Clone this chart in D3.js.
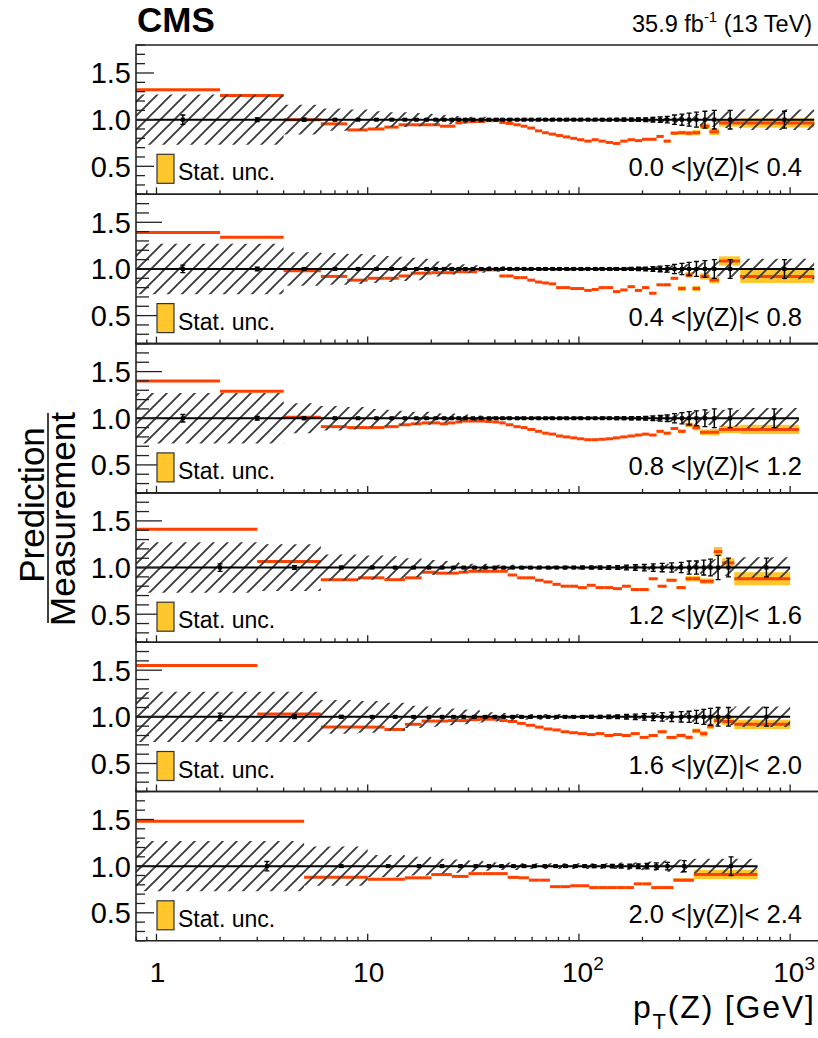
<!DOCTYPE html>
<html>
<head>
<meta charset="utf-8">
<script src="https://cdn.jsdelivr.net/npm/d3@7"></script>
<style>
  body { margin: 0; background: #fff; }
  svg { display: block; font-family: "Liberation Sans", Arial, Helvetica, sans-serif; }
</style>
</head>
<body>
<svg id="chart" width="818" height="1038"></svg>
<script>
// ---- data (pT bins in GeV, ratios prediction / measurement) ----
// lower bin edges, one group per rapidity range; last upper edge is in lastEdge
const edgesCentral = [0, 2, 4, 6, 8, 10, 12, 14, 16, 18,
  20, 22, 24, 26, 28, 30, 33, 36, 39, 42,
  45, 49, 53, 57, 62, 67, 72, 78, 84, 91,
  98, 106, 115, 124, 134, 145, 157, 170, 184, 199,
  215, 233, 252, 272, 295, 320, 345, 375, 415, 460,
  580];
const edgesMid = [0, 3, 6, 9, 12, 15, 18, 21, 24, 27,
  30, 34, 38, 42, 46, 51, 56, 62, 68, 75,
  82, 90, 99, 109, 120, 132, 145, 160, 176, 194,
  214, 236, 260, 290, 320, 345, 375, 405, 435, 477,
  544];
const edgesFwd = [0, 5, 10, 15, 20, 25, 30, 35, 40, 46,
  52, 58, 65, 73, 82, 91, 101, 112, 124, 137,
  151, 166, 182, 200, 220, 245, 280, 350];
const lastEdge = [1300, 1300, 1100, 1000, 1000, 700];

const rapidityLabels = ['0.0 <|y(Z)|< 0.4', '0.4 <|y(Z)|< 0.8', '0.8 <|y(Z)|< 1.2',
  '1.2 <|y(Z)|< 1.6', '1.6 <|y(Z)|< 2.0', '2.0 <|y(Z)|< 2.4'];

const pred1 = [1.32, 1.26, 1.00, 0.955, 0.89, 0.90, 0.92, 0.945, 0.945, 0.945,
  0.945, 0.93, 0.93, 0.965, 0.975, 0.98, 0.98, 0.99, 0.99, 0.97,
  0.96, 0.945, 0.93, 0.91, 0.88, 0.86, 0.845, 0.83, 0.815, 0.80,
  0.785, 0.77, 0.785, 0.77, 0.756, 0.745, 0.77, 0.785, 0.775, 0.79,
  0.79, 0.82, 0.77, 0.855, 0.86, 0.855, 0.86, 0.93, 0.87, 0.965,
  0.965];
const pred2 = [1.39, 1.34, 0.98, 0.92, 0.88, 0.90, 0.90, 0.925, 0.955, 0.955,
  0.96, 0.96, 0.96, 0.97, 0.97, 0.97, 0.99, 0.99, 0.99, 0.925,
  0.925, 0.907, 0.907, 0.88, 0.86, 0.85, 0.84, 0.80, 0.80, 0.79,
  0.79, 0.77, 0.78, 0.80, 0.80, 0.757, 0.775, 0.81, 0.77, 0.80,
  0.74, 0.83, 0.83, 0.90, 0.79, 0.935, 0.79, 0.92, 0.88, 1.085,
  0.92];
const pred3 = [1.40, 1.29, 1.01, 0.91, 0.90, 0.90, 0.91, 0.93, 0.94, 0.95,
  0.95, 0.94, 0.95, 0.96, 0.97, 0.97, 0.97, 0.965, 0.96, 0.95,
  0.93, 0.91, 0.90, 0.88, 0.86, 0.84, 0.83, 0.81, 0.80, 0.79,
  0.78, 0.77, 0.77, 0.775, 0.78, 0.79, 0.80, 0.81, 0.82, 0.83,
  0.82, 0.86, 0.84, 0.89, 0.86, 0.93, 0.90, 0.85, 0.85, 0.88,
  0.88];
const pred4 = [1.41, 1.065, 0.87, 0.89, 0.87, 0.89, 0.95, 0.94, 0.94, 0.95,
  0.96, 0.96, 0.96, 0.96, 0.92, 0.89, 0.89, 0.864, 0.846, 0.82,
  0.80, 0.80, 0.785, 0.81, 0.785, 0.785, 0.774, 0.80, 0.764, 0.764,
  0.88, 0.80, 0.864, 0.785, 0.88, 0.88, 0.853, 0.853, 1.17, 1.05,
  0.88];
const pred5 = [1.55, 1.03, 0.89, 0.89, 0.865, 0.92, 0.955, 0.955, 0.96, 0.96,
  0.97, 0.975, 0.975, 0.96, 0.95, 0.93, 0.91, 0.89, 0.87, 0.86,
  0.84, 0.83, 0.82, 0.81, 0.82, 0.80, 0.81, 0.80, 0.82, 0.78,
  0.80, 0.84, 0.78, 0.80, 0.78, 0.85, 0.82, 0.90, 0.96, 0.95,
  0.92];
const pred6 = [1.48, 0.88, 0.86, 0.875, 0.91, 0.89, 0.92, 0.92, 0.92, 0.88,
  0.875, 0.85, 0.85, 0.78, 0.78, 0.79, 0.79, 0.77, 0.77, 0.77,
  0.77, 0.77, 0.81, 0.81, 0.77, 0.77, 0.85, 0.91];

// statistical uncertainty of the prediction (yellow boxes)
const stat1 = [0.006, 0.006, 0.006, 0.006, 0.006, 0.006, 0.006, 0.006, 0.006, 0.006,
  0.006, 0.006, 0.006, 0.006, 0.006, 0.006, 0.006, 0.006, 0.006, 0.006,
  0.006, 0.006, 0.006, 0.006, 0.006, 0.006, 0.006, 0.006, 0.006, 0.006,
  0.006, 0.006, 0.006, 0.006, 0.006, 0.008, 0.008, 0.008, 0.01, 0.01,
  0.01, 0.012, 0.014, 0.02, 0.022, 0.025, 0.028, 0.03, 0.035, 0.04,
  0.05];
const stat2 = [0.006, 0.006, 0.006, 0.006, 0.006, 0.006, 0.006, 0.006, 0.006, 0.006,
  0.006, 0.006, 0.006, 0.006, 0.006, 0.006, 0.006, 0.006, 0.006, 0.006,
  0.006, 0.006, 0.006, 0.006, 0.006, 0.006, 0.006, 0.006, 0.006, 0.006,
  0.006, 0.006, 0.006, 0.006, 0.006, 0.008, 0.008, 0.008, 0.01, 0.01,
  0.01, 0.012, 0.014, 0.015, 0.025, 0.03, 0.03, 0.035, 0.035, 0.05,
  0.07];
const stat3 = [0.006, 0.006, 0.006, 0.006, 0.006, 0.006, 0.006, 0.006, 0.006, 0.006,
  0.006, 0.006, 0.006, 0.006, 0.006, 0.006, 0.006, 0.006, 0.006, 0.006,
  0.006, 0.006, 0.006, 0.006, 0.006, 0.006, 0.006, 0.006, 0.006, 0.006,
  0.006, 0.006, 0.006, 0.006, 0.006, 0.008, 0.008, 0.008, 0.01, 0.01,
  0.01, 0.012, 0.014, 0.015, 0.02, 0.025, 0.03, 0.03, 0.035, 0.04,
  0.05];
const stat4 = [0.006, 0.006, 0.006, 0.006, 0.006, 0.006, 0.006, 0.006, 0.006, 0.006,
  0.006, 0.006, 0.006, 0.006, 0.006, 0.006, 0.006, 0.006, 0.006, 0.006,
  0.006, 0.008, 0.008, 0.008, 0.01, 0.01, 0.01, 0.01, 0.012, 0.012,
  0.01, 0.01, 0.015, 0.015, 0.03, 0.03, 0.03, 0.03, 0.05, 0.05,
  0.07];
const stat5 = [0.006, 0.006, 0.006, 0.006, 0.006, 0.006, 0.006, 0.006, 0.006, 0.006,
  0.006, 0.006, 0.006, 0.006, 0.006, 0.006, 0.006, 0.006, 0.006, 0.006,
  0.006, 0.008, 0.008, 0.008, 0.01, 0.01, 0.01, 0.01, 0.012, 0.012,
  0.012, 0.015, 0.015, 0.02, 0.02, 0.025, 0.03, 0.03, 0.035, 0.04,
  0.05];
const stat6 = [0.006, 0.006, 0.006, 0.006, 0.006, 0.006, 0.006, 0.006, 0.006, 0.006,
  0.006, 0.006, 0.006, 0.006, 0.008, 0.008, 0.008, 0.01, 0.01, 0.01,
  0.01, 0.012, 0.012, 0.012, 0.014, 0.015, 0.02, 0.05];

// total systematic uncertainty of the measurement (hatched band)
const syst1 = [0.27, 0.27, 0.16, 0.12, 0.11, 0.09, 0.08, 0.08, 0.07, 0.07,
  0.06, 0.05, 0.05, 0.04, 0.04, 0.03, 0.03, 0.03, 0.02, 0.02,
  0.02, 0.02, 0.02, 0.02, 0.02, 0.02, 0.02, 0.02, 0.02, 0.02,
  0.02, 0.02, 0.02, 0.02, 0.02, 0.02, 0.02, 0.02, 0.02, 0.02,
  0.03, 0.03, 0.04, 0.04, 0.05, 0.05, 0.06, 0.07, 0.08, 0.09,
  0.11];
const syst2 = [0.27, 0.27, 0.18, 0.17, 0.16, 0.15, 0.14, 0.13, 0.12, 0.11,
  0.08, 0.07, 0.06, 0.05, 0.05, 0.04, 0.04, 0.03, 0.03, 0.03,
  0.02, 0.02, 0.02, 0.02, 0.02, 0.02, 0.02, 0.02, 0.02, 0.02,
  0.02, 0.02, 0.02, 0.02, 0.02, 0.02, 0.02, 0.02, 0.02, 0.02,
  0.03, 0.03, 0.04, 0.04, 0.05, 0.05, 0.06, 0.07, 0.08, 0.09,
  0.11];
const syst3 = [0.27, 0.27, 0.16, 0.13, 0.12, 0.10, 0.09, 0.08, 0.07, 0.07,
  0.06, 0.05, 0.05, 0.04, 0.04, 0.03, 0.03, 0.03, 0.02, 0.02,
  0.02, 0.02, 0.02, 0.02, 0.02, 0.02, 0.02, 0.02, 0.02, 0.02,
  0.02, 0.02, 0.02, 0.02, 0.02, 0.02, 0.02, 0.02, 0.02, 0.02,
  0.03, 0.03, 0.04, 0.04, 0.05, 0.06, 0.07, 0.07, 0.08, 0.09,
  0.11];
const syst4 = [0.27, 0.25, 0.14, 0.13, 0.12, 0.10, 0.08, 0.07, 0.06, 0.05,
  0.04, 0.04, 0.03, 0.03, 0.03, 0.02, 0.02, 0.02, 0.02, 0.02,
  0.02, 0.02, 0.02, 0.02, 0.02, 0.02, 0.02, 0.02, 0.02, 0.02,
  0.03, 0.03, 0.04, 0.04, 0.05, 0.06, 0.07, 0.08, 0.09, 0.09,
  0.11];
const syst5 = [0.27, 0.27, 0.18, 0.17, 0.15, 0.12, 0.11, 0.10, 0.09, 0.08,
  0.07, 0.06, 0.05, 0.04, 0.04, 0.03, 0.03, 0.03, 0.03, 0.03,
  0.02, 0.02, 0.02, 0.02, 0.02, 0.02, 0.02, 0.02, 0.02, 0.02,
  0.03, 0.03, 0.04, 0.04, 0.05, 0.06, 0.07, 0.08, 0.09, 0.09,
  0.11];
const syst6 = [0.27, 0.21, 0.12, 0.10, 0.08, 0.07, 0.06, 0.05, 0.04, 0.04,
  0.03, 0.03, 0.03, 0.03, 0.03, 0.03, 0.03, 0.03, 0.03, 0.03,
  0.04, 0.04, 0.04, 0.05, 0.05, 0.06, 0.07, 0.08];

// statistical uncertainty of the measurement (black error bars)
const derr1 = [0.05, 0.02, 0.015, 0.012, 0.01, 0.01, 0.01, 0.01, 0.01, 0.01,
  0.01, 0.01, 0.01, 0.01, 0.01, 0.01, 0.01, 0.01, 0.01, 0.01,
  0.01, 0.01, 0.01, 0.01, 0.01, 0.01, 0.01, 0.01, 0.01, 0.01,
  0.01, 0.01, 0.01, 0.012, 0.012, 0.014, 0.015, 0.016, 0.018, 0.02,
  0.025, 0.03, 0.035, 0.05, 0.06, 0.07, 0.08, 0.09, 0.1, 0.1,
  0.09];
const derr2 = [0.04, 0.02, 0.015, 0.012, 0.01, 0.01, 0.01, 0.01, 0.01, 0.01,
  0.01, 0.01, 0.01, 0.01, 0.01, 0.01, 0.01, 0.01, 0.01, 0.01,
  0.01, 0.01, 0.01, 0.01, 0.01, 0.01, 0.01, 0.01, 0.01, 0.01,
  0.01, 0.01, 0.01, 0.012, 0.012, 0.014, 0.015, 0.016, 0.018, 0.02,
  0.025, 0.03, 0.035, 0.05, 0.06, 0.07, 0.08, 0.09, 0.1, 0.1,
  0.1];
const derr3 = [0.04, 0.02, 0.015, 0.012, 0.01, 0.01, 0.01, 0.01, 0.01, 0.01,
  0.01, 0.01, 0.01, 0.01, 0.01, 0.01, 0.01, 0.01, 0.01, 0.01,
  0.01, 0.01, 0.01, 0.01, 0.01, 0.01, 0.01, 0.01, 0.01, 0.01,
  0.01, 0.01, 0.01, 0.012, 0.012, 0.014, 0.015, 0.016, 0.018, 0.02,
  0.025, 0.03, 0.035, 0.05, 0.06, 0.07, 0.08, 0.09, 0.1, 0.1,
  0.1];
const derr4 = [0.04, 0.02, 0.015, 0.012, 0.01, 0.01, 0.01, 0.01, 0.01, 0.01,
  0.01, 0.01, 0.01, 0.01, 0.01, 0.01, 0.01, 0.01, 0.01, 0.01,
  0.012, 0.012, 0.014, 0.015, 0.016, 0.018, 0.02, 0.025, 0.03, 0.035,
  0.04, 0.045, 0.05, 0.055, 0.07, 0.07, 0.08, 0.09, 0.13, 0.1,
  0.1];
const derr5 = [0.04, 0.02, 0.015, 0.012, 0.01, 0.01, 0.01, 0.01, 0.01, 0.01,
  0.01, 0.01, 0.01, 0.01, 0.01, 0.01, 0.01, 0.01, 0.01, 0.01,
  0.012, 0.012, 0.014, 0.015, 0.016, 0.018, 0.02, 0.025, 0.03, 0.035,
  0.04, 0.045, 0.05, 0.055, 0.06, 0.07, 0.08, 0.09, 0.1, 0.1,
  0.1];
const derr6 = [0.05, 0.012, 0.01, 0.01, 0.01, 0.01, 0.01, 0.01, 0.01, 0.01,
  0.01, 0.01, 0.01, 0.01, 0.012, 0.012, 0.014, 0.015, 0.016, 0.018,
  0.02, 0.022, 0.025, 0.03, 0.035, 0.04, 0.06, 0.1];

const yTickLabels = ['0.5', '1.0', '1.5'];
const xTickLabels = [['1', ''], ['10', ''], ['10', '2'], ['10', '3']];

// table used for drawing
const panels = [
  { edges: edgesCentral, pred: pred1, stat: stat1, syst: syst1, derr: derr1 },
  { edges: edgesCentral, pred: pred2, stat: stat2, syst: syst2, derr: derr2 },
  { edges: edgesCentral, pred: pred3, stat: stat3, syst: syst3, derr: derr3 },
  { edges: edgesMid, pred: pred4, stat: stat4, syst: syst4, derr: derr4 },
  { edges: edgesMid, pred: pred5, stat: stat5, syst: syst5, derr: derr5 },
  { edges: edgesFwd, pred: pred6, stat: stat6, syst: syst6, derr: derr6 },
].map((p, i) => ({ ...p, last: lastEdge[i], label: rapidityLabels[i] }));

// ---- layout ----
const svg = d3.select('#chart');
const plotLeft = 136;
const plotRight = 821; // frame runs just past the picture edge
const plotTop = 45;
const panelH = 149.3;
const orange = '#ff4000';
const statFill = '#ffc72c';

const xScale = d3.scaleLog().domain([0.8, 1400]).range([plotLeft, plotRight]);
const xc = (v) => xScale(Math.max(v, 0.8));

// hatch pattern for the systematic band
const pat = svg
  .append('defs')
  .append('pattern')
  .attr('id', 'hatch')
  .attr('patternUnits', 'userSpaceOnUse')
  .attr('width', 14)
  .attr('height', 14);
pat
  .append('path')
  .attr('d', 'M-1,15 L15,-1 M-4,4 L4,-4 M10,18 L18,10')
  .attr('stroke', '#3c3c3c')
  .attr('stroke-width', 1.9);

panels.forEach((p, i) => {
  const top = plotTop + i * panelH;
  const bottom = top + panelH;
  const yScale = d3.scaleLinear().domain([0.2, 1.8]).range([bottom, top]);
  const outer = i === 0 || i === panels.length - 1;

  const bins = p.edges.map((lo, k) => ({
    lo,
    hi: k + 1 < p.edges.length ? p.edges[k + 1] : p.last,
    pred: p.pred[k],
    stat: p.stat[k],
    syst: p.syst[k],
    err: p.derr[k],
  }));

  const grp = svg.append('g').attr('class', 'panel');

  // stat. unc. boxes of the prediction
  grp
    .selectAll('.stat')
    .data(bins)
    .enter()
    .append('rect')
    .attr('class', 'stat')
    .attr('x', (d) => xc(d.lo))
    .attr('width', (d) => xc(d.hi) - xc(d.lo))
    .attr('y', (d) => yScale(d.pred + d.stat))
    .attr('height', (d) => yScale(d.pred - d.stat) - yScale(d.pred + d.stat))
    .attr('fill', statFill);

  // prediction
  grp
    .selectAll('.pred')
    .data(bins)
    .enter()
    .append('line')
    .attr('class', 'pred')
    .attr('x1', (d) => xc(d.lo))
    .attr('x2', (d) => xc(d.hi))
    .attr('y1', (d) => yScale(d.pred))
    .attr('y2', (d) => yScale(d.pred))
    .attr('stroke', orange)
    .attr('stroke-width', 3);

  // hatched syst. band
  const stepPts = bins.concat([{ lo: p.last, syst: bins[bins.length - 1].syst }]);
  const band = d3
    .area()
    .x((d) => xc(d.lo))
    .y0((d) => yScale(1 - d.syst))
    .y1((d) => yScale(1 + d.syst))
    .curve(d3.curveStepAfter);
  grp.append('path').datum(stepPts).attr('d', band).attr('fill', 'url(#hatch)');

  // measurement line at 1
  grp
    .append('line')
    .attr('x1', xc(bins[0].lo))
    .attr('x2', xScale(p.last))
    .attr('y1', yScale(1))
    .attr('y2', yScale(1))
    .attr('stroke', '#000')
    .attr('stroke-width', 2);

  // data points
  const centre = (d) => (d.lo === 0 ? (d.hi * 2) / 3 : (d.lo + d.hi) / 2);
  const pts = grp
    .selectAll('.pt')
    .data(bins)
    .enter()
    .append('g')
    .attr('class', 'pt')
    .attr('transform', (d) => `translate(${xScale(centre(d))},0)`);
  pts
    .append('line')
    .attr('y1', (d) => yScale(1 + d.err))
    .attr('y2', (d) => yScale(1 - d.err))
    .attr('stroke', '#000')
    .attr('stroke-width', 1.5);
  pts
    .append('path')
    .attr('d', (d) => {
      const a = yScale(1 + d.err);
      const b = yScale(1 - d.err);
      return `M-2.5,${a}H2.5M-2.5,${b}H2.5`;
    })
    .attr('stroke', '#000')
    .attr('stroke-width', 1.3);
  pts
    .append('rect')
    .attr('x', -2)
    .attr('y', yScale(1) - 2)
    .attr('width', 4)
    .attr('height', 4)
    .attr('fill', '#000');

  // frame
  grp
    .append('path')
    .attr('d', `M${plotRight},${top}H${plotLeft}V${bottom}H${plotRight}`)
    .attr('fill', 'none')
    .attr('stroke', '#222')
    .attr('stroke-width', 1.6);

  // y axis ticks
  const yTicks = d3.range(2, 19).map((v) => v / 10);
  grp
    .selectAll('.ytick')
    .data(yTicks)
    .enter()
    .append('line')
    .attr('class', 'ytick')
    .attr('x1', plotLeft)
    .attr('x2', (d) => {
      const major = Math.abs(d * 2 - Math.round(d * 2)) < 1e-6;
      return plotLeft + (major ? (outer ? 18 : 26) : outer ? 9 : 13);
    })
    .attr('y1', (d) => yScale(d))
    .attr('y2', (d) => yScale(d))
    .attr('stroke', '#222')
    .attr('stroke-width', 1.3);

  grp
    .selectAll('.ylab')
    .data(yTickLabels)
    .enter()
    .append('text')
    .attr('class', 'ylab')
    .attr('x', 131)
    .attr('y', (d) => yScale(+d))
    .attr('dy', '0.36em')
    .attr('text-anchor', 'end')
    .attr('font-size', 29)
    .text((d) => d);

  // x axis ticks at the bottom of each panel
  const xTicks = [];
  [0.1, 1, 10, 100, 1000].forEach((dec) => {
    for (let m = 1; m <= 9; m++) {
      const v = m * dec;
      if (v >= 0.8 && v <= 1400) xTicks.push({ v, major: m === 1 });
    }
  });
  grp
    .selectAll('.xtick')
    .data(xTicks)
    .enter()
    .append('line')
    .attr('class', 'xtick')
    .attr('x1', (d) => xScale(d.v))
    .attr('x2', (d) => xScale(d.v))
    .attr('y1', bottom)
    .attr('y2', (d) => bottom - (d.major ? 7 : 4))
    .attr('stroke', '#222')
    .attr('stroke-width', 1.3);

  // legend
  grp
    .append('rect')
    .attr('x', 157)
    .attr('y', bottom - 40)
    .attr('width', 17)
    .attr('height', 29)
    .attr('fill', statFill)
    .attr('stroke', '#333')
    .attr('stroke-width', 1.2);
  grp
    .append('text')
    .attr('x', 178)
    .attr('y', bottom - 14)
    .attr('font-size', 23)
    .text('Stat. unc.');

  // rapidity range
  grp
    .append('text')
    .attr('x', 802)
    .attr('y', bottom - 18)
    .attr('text-anchor', 'end')
    .attr('font-size', 25.5)
    .text(p.label);
});

// x tick labels under the last panel
const xLabelVals = [1, 10, 100, 1000];
const xl = svg
  .selectAll('.xlab')
  .data(xTickLabels)
  .enter()
  .append('text')
  .attr('class', 'xlab')
  .attr('x', (d, i) => xScale(xLabelVals[i]) + (d[1] ? 4 : 1))
  .attr('y', 982)
  .attr('text-anchor', 'middle')
  .attr('font-size', 28);
xl.append('tspan').text((d) => d[0]);
xl.append('tspan')
  .attr('font-size', 19)
  .attr('dy', -12)
  .text((d) => d[1]);

// axis titles
const xt = svg
  .append('text')
  .attr('x', 633)
  .attr('y', 1018)
  .attr('font-size', 32)
  .attr('letter-spacing', 1.8);
xt.append('tspan').text('p');
xt.append('tspan').attr('font-size', 22).attr('dy', 11).text('T');
xt.append('tspan').attr('dy', -11).text('(Z) [GeV]');

const yt = svg.append('g').attr('transform', 'rotate(-90)');
yt.append('text')
  .attr('x', -505)
  .attr('y', 44)
  .attr('text-anchor', 'middle')
  .attr('font-size', 35)
  .text('Prediction');
yt.append('line')
  .attr('x1', -623)
  .attr('x2', -413)
  .attr('y1', 48)
  .attr('y2', 48)
  .attr('stroke', '#000')
  .attr('stroke-width', 1.5);
yt.append('text')
  .attr('x', -519)
  .attr('y', 75)
  .attr('text-anchor', 'middle')
  .attr('font-size', 35)
  .text('Measurement');

// header
svg
  .append('text')
  .attr('x', 137)
  .attr('y', 32)
  .attr('font-size', 35)
  .attr('font-weight', 'bold')
  .text('CMS');
const lumi = svg
  .append('text')
  .attr('x', 632)
  .attr('y', 32)
  .attr('font-size', 23.5);
lumi.append('tspan').text('35.9 fb');
lumi.append('tspan').attr('font-size', 15).attr('dy', -10).text('-1');
lumi.append('tspan').attr('dy', 10).text(' (13 TeV)');
</script>
</body>
</html>
